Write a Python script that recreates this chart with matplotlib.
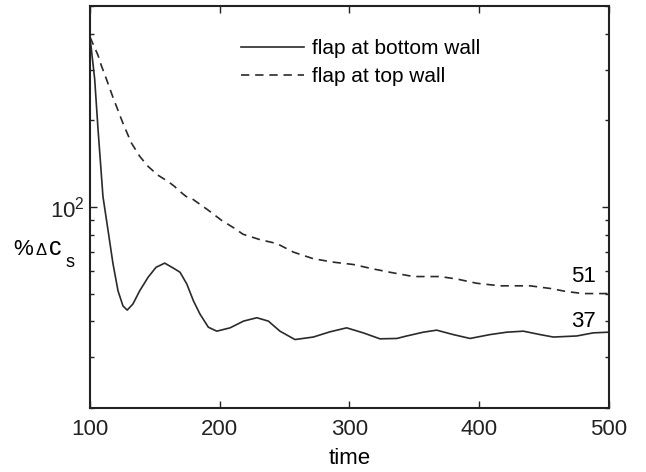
import matplotlib
matplotlib.use("Agg")
import matplotlib.pyplot as plt
from matplotlib.ticker import LogLocator, NullFormatter, FixedLocator

plt.rcParams["font.family"] = ["Liberation Sans", "DejaVu Sans"]
plt.rcParams["mathtext.fontset"] = "custom"
plt.rcParams["mathtext.rm"] = "Liberation Sans"
plt.rcParams["mathtext.it"] = "Liberation Sans"

# -------------------------------------------------
# data
# -------------------------------------------------
t_bottom = [100, 103.6, 106.2, 110.0, 113.9, 117.7, 121.6, 125.4, 128.7,
            133.1, 138.3, 144.7, 150.9, 157.6, 165.3, 169.4, 174.6, 179.7,
            184.8, 191.2, 197.7, 208.0, 218.3, 228.6, 237.5, 246.4, 258.0,
            272.1, 284.9, 297.8, 310.6, 323.5, 336.4, 344.1, 356.9, 367.2,
            380.0, 392.9, 408.3, 421.2, 434.0, 446.9, 457.1, 475.1, 487.9,
            500]
v_bottom = [390, 279.0, 186.3, 108.7, 83.0, 63.6, 51.1, 45.3, 43.8,
            46.0, 51.1, 56.9, 61.7, 63.8, 60.9, 59.3, 54.0, 47.2,
            42.4, 38.2, 37.0, 38.0, 40.1, 41.2, 40.1, 37.0, 34.6,
            35.3, 36.8, 38.0, 36.5, 34.8, 34.9, 35.6, 36.7, 37.3,
            36.0, 34.9, 36.0, 36.7, 37.0, 36.0, 35.3, 35.6, 36.5,
            36.7]

t_top = [100, 106.2, 108.7, 112.6, 117.7, 125.4, 131.8, 138.3, 144.7,
         152.4, 160.1, 165.3, 167.8, 174.2, 178.1, 191.0, 201.2, 211.6,
         217.9, 231.0, 244.1, 256.7, 272.1, 287.5, 302.9, 318.3, 331.2,
         349.2, 369.7, 382.6, 398.0, 416.0, 439.1, 454.5, 467.4, 480.2,
         500]
v_top = [390, 336.8, 310.7, 279.0, 240.7, 195.6, 167.3, 150.1, 138.5,
         129.0, 122.7, 117.8, 114.7, 108.7, 107.3, 97.6, 90.0, 84.2,
         80.4, 77.0, 74.6, 69.7, 66.1, 64.3, 63.1, 60.9, 59.3,
         57.3, 57.3, 56.2, 54.3, 53.2, 53.2, 52.1, 50.8, 50.0,
         50.0]

legend_labels = ["flap at bottom wall", "flap at top wall"]
end_labels = ["51", "37"]
x_ticks = [100, 200, 300, 400, 500]

# -------------------------------------------------
# figure
# -------------------------------------------------
W, H = 646, 472
fig = plt.figure(figsize=(W / 100, H / 100), dpi=100)
ax = fig.add_axes([0.1393, 0.1356, 0.8034, 0.8517])

line_color = "#2a2a2a"
ax.plot(t_bottom, v_bottom, color=line_color, lw=1.2, label=legend_labels[0])
ax.plot(t_top, v_top, color=line_color, lw=1.2, dashes=(5, 3.5),
        label=legend_labels[1])

ax.set_yscale("log")
ax.set_xlim(100, 500)
ax.set_ylim(20, 500)

ax.xaxis.set_major_locator(FixedLocator(x_ticks))
ax.yaxis.set_major_locator(LogLocator(base=10))
ax.yaxis.set_minor_locator(LogLocator(base=10, subs=range(2, 10)))
ax.yaxis.set_minor_formatter(NullFormatter())

ax.tick_params(which="both", direction="in", top=True, right=True,
               labelsize=16, colors="#222222")
ax.tick_params(which="major", length=5, width=1)
ax.tick_params(which="minor", length=3, width=1)
ax.tick_params(axis="x", pad=8)
for sp in ax.spines.values():
    sp.set_linewidth(1.5)
    sp.set_color("#222222")

ax.set_xlabel("time", fontsize=16, labelpad=6)

# y label "%Δc_s" built from pieces (small delta, subscript s)
def px_text(x, y, s, size):
    fig.text(x / W, 1 - y / H, s, fontsize=size, ha="left", va="baseline")

px_text(13, 255, "%", 16)
px_text(35, 255, "\u0394", 12)
px_text(49, 255, "c", 18)
px_text(65, 267, "s", 13)

ax.text(490, 57.5, end_labels[0], fontsize=16, ha="right", va="center")
ax.text(490, 40, end_labels[1], fontsize=16, ha="right", va="center")

ax.legend(loc="upper left", bbox_to_anchor=(0.255, 0.965), frameon=False,
          fontsize=15, handlelength=3.0, handletextpad=0.4, labelspacing=0.45)

fig.savefig("out.png", dpi=100)
